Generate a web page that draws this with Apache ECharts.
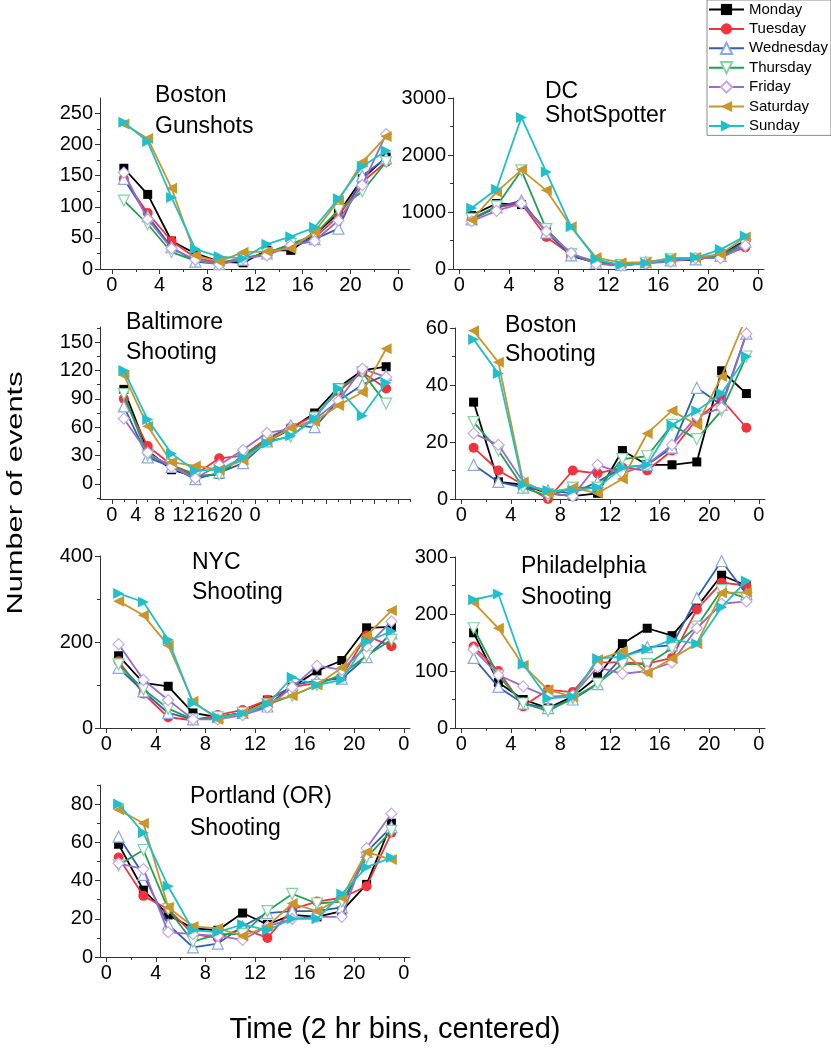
<!DOCTYPE html>
<html><head><meta charset="utf-8">
<script src="https://cdn.jsdelivr.net/npm/echarts@6/dist/echarts.min.js"></script>
<style>html,body{margin:0;padding:0;background:#fff}#c{width:831px;height:1050px}</style>
</head><body><div id="c"></div>
<script>
// ---------------- data ----------------
const DAYS = ['Monday', 'Tuesday', 'Wednesday', 'Thursday', 'Friday', 'Saturday', 'Sunday'];
const HOURS = [1, 3, 5, 7, 9, 11, 13, 15, 17, 19, 21, 23];
const BALTIMORE_HOURS = [2, 6, 10, 14, 18, 22, 26, 30, 34, 38, 42, 46];
const X_TICKS = [0, 4, 8, 12, 16, 20, 24];
const X_MINOR = [2, 6, 10, 14, 18, 22];
const BALTIMORE_X_TICKS = [0, 4, 8, 12, 16, 20, 24, 28, 32, 36, 40, 44, 48];
const BALTIMORE_X_MINOR = [2, 6, 10, 14, 18, 22, 26, 30, 34, 38, 42, 46, 50];

// rows: Monday..Sunday, columns: HOURS
const bostonGunshots = [
  [162, 120, 45, 25, 12, 10, 30, 30, 55, 90, 145, 180],
  [145, 90, 45, 18, 10, 17, 25, 38, 50, 85, 140, 172],
  [145, 85, 35, 12, 8, 15, 25, 40, 48, 65, 150, 178],
  [110, 72, 27, 13, 10, 17, 25, 40, 55, 95, 125, 172],
  [155, 80, 33, 15, 7, 17, 22, 38, 45, 78, 135, 217],
  [233, 210, 130, 22, 12, 27, 28, 33, 60, 110, 172, 213],
  [236, 205, 115, 32, 20, 17, 40, 52, 67, 113, 165, 190]
];
const dcShotSpotter = [
  [940, 1150, 1130, 690, 230, 110, 50, 120, 160, 160, 250, 500],
  [880, 1080, 1150, 560, 250, 100, 80, 90, 160, 180, 220, 380],
  [870, 1080, 1200, 640, 240, 110, 70, 120, 150, 170, 230, 480],
  [880, 1100, 1730, 700, 260, 130, 70, 110, 170, 180, 240, 420],
  [840, 1020, 1150, 660, 280, 90, 60, 100, 130, 190, 190, 410],
  [860, 1350, 1740, 1380, 740, 200, 110, 120, 190, 200, 260, 560],
  [1070, 1400, 2660, 1700, 740, 170, 70, 100, 180, 200, 340, 580]
];
const baltimoreShooting = [
  [100, 35, 15, 8, 10, 30, 45, 58, 75, 102, 120, 124],
  [90, 40, 20, 10, 27, 30, 48, 60, 72, 98, 118, 101],
  [82, 28, 18, 5, 12, 22, 45, 62, 60, 88, 105, 115],
  [95, 30, 20, 8, 10, 30, 45, 50, 70, 100, 118, 85],
  [69, 33, 18, 6, 20, 36, 54, 58, 68, 88, 122, 113],
  [115, 61, 23, 19, 15, 25, 45, 59, 66, 83, 97, 143],
  [120, 68, 32, 14, 15, 28, 43, 51, 69, 101, 72, 107]
];
const bostonShooting = [
  [34, 6, 5, 2, 1, 2, 17, 12, 12, 13, 45, 37],
  [18, 10, 5, 0, 10, 9, 11, 10, 17, 28, 35, 25],
  [12, 6, 4, 3, 2, 6, 11, 12, 18, 39, 33, 58],
  [27, 17, 4, 1, 4, 4, 14, 15, 26, 21, 31, 50],
  [23, 19, 6, 2, 1, 12, 9, 12, 19, 29, 32, 58],
  [59, 48, 6, 2, 4, 2, 7, 23, 31, 26, 43, 64],
  [56, 44, 5, 3, 3, 4, 11, 12, 26, 31, 37, 50]
];
const nycShooting = [
  [168, 105, 97, 35, 25, 35, 65, 95, 133, 157, 233, 235],
  [155, 80, 25, 18, 30, 42, 65, 95, 105, 120, 215, 190],
  [140, 85, 35, 20, 25, 35, 50, 100, 110, 115, 165, 220],
  [148, 90, 45, 20, 25, 35, 55, 75, 100, 125, 168, 205],
  [195, 112, 65, 20, 20, 30, 48, 95, 145, 135, 190, 248],
  [295, 262, 192, 62, 20, 35, 60, 75, 100, 140, 215, 273],
  [313, 293, 205, 58, 25, 33, 55, 118, 100, 112, 200, 225]
];
const philadelphiaShooting = [
  [167, 80, 50, 35, 55, 90, 148, 175, 162, 212, 268, 250],
  [143, 100, 38, 67, 63, 115, 115, 113, 123, 208, 255, 250],
  [123, 72, 43, 35, 50, 77, 125, 142, 145, 228, 293, 235],
  [175, 92, 43, 30, 52, 78, 112, 112, 140, 178, 242, 228],
  [138, 93, 73, 55, 57, 107, 95, 100, 115, 175, 218, 222],
  [220, 175, 110, 67, 55, 120, 135, 97, 122, 148, 237, 238],
  [225, 235, 112, 52, 55, 122, 125, 138, 155, 148, 212, 258]
];
const portlandShooting = [
  [59, 35, 22, 15, 14, 23, 17, 22, 21, 24, 38, 70],
  [52, 32, 25, 12, 10, 15, 10, 25, 29, 31, 37, 65],
  [63, 43, 17, 5, 7, 16, 23, 24, 24, 26, 55, 68],
  [48, 56, 25, 8, 12, 12, 24, 33, 28, 29, 52, 66],
  [49, 46, 13, 12, 11, 9, 16, 20, 21, 21, 57, 75],
  [77, 70, 26, 16, 15, 11, 16, 28, 24, 31, 55, 51],
  [80, 65, 37, 14, 13, 17, 14, 20, 20, 33, 47, 52]
];

const PANEL_TITLES = ['Boston\nGunshots', 'DC\nShotSpotter', 'Baltimore\nShooting', 'Boston\nShooting',
  'NYC\nShooting', 'Philadelphia\nShooting', 'Portland (OR)\nShooting'];
const PANEL_DATA = [bostonGunshots, dcShotSpotter, baltimoreShooting, bostonShooting,
  nycShooting, philadelphiaShooting, portlandShooting];
const PANEL_HOURS = [HOURS, HOURS, BALTIMORE_HOURS, HOURS, HOURS, HOURS, HOURS];
const Y_TICKS = [
  [0, 50, 100, 150, 200, 250],
  [0, 1000, 2000, 3000],
  [0, 30, 60, 90, 120, 150],
  [0, 20, 40, 60],
  [0, 200, 400],
  [0, 100, 200, 300],
  [0, 20, 40, 60, 80]
];
const Y_MINOR = [
  [25, 75, 125, 175, 225],
  [500, 1500, 2500],
  [-15, 15, 45, 75, 105, 135, 165],
  [10, 30, 50],
  [100, 300],
  [50, 150, 250],
  [10, 30, 50, 70, 90]
];
const Y_RANGE = [[0, 275], [0, 3000], [-16, 166], [0, 60], [0, 400], [0, 300], [0, 90]];
const X_RANGE = [[-1, 25], [-0.5, 24.5], [-2, 50], [-0.5, 24.5], [-0.5, 24.5], [-0.5, 24.5], [-0.5, 24.5]];

// ---------------- layout / style ----------------
const FONT = "'Liberation Sans', Arial, sans-serif";
const GRIDS = [
  {left: 100, top: 98, width: 310, height: 171},
  {left: 453, top: 98, width: 311, height: 171},
  {left: 100, top: 327, width: 310, height: 172},
  {left: 455, top: 328, width: 310, height: 171},
  {left: 100, top: 556, width: 310, height: 172},
  {left: 455, top: 557, width: 310, height: 171},
  {left: 100, top: 785, width: 310, height: 172}
];
const TITLE_POS = [
  {left: 155, top: 80, lh: 31},
  {left: 545, top: 80, lh: 23.5},
  {left: 126, top: 308, lh: 30},
  {left: 505, top: 311, lh: 29},
  {left: 192, top: 548, lh: 30},
  {left: 521, top: 551, lh: 31},
  {left: 190, top: 781, lh: 32}
];
const STYLES = [
  {line: '#000000', fill: '#000000', border: '#000000', symbol: 'rect', size: 9, rot: 0},
  {line: '#F2333D', fill: '#F2333D', border: '#F2333D', symbol: 'circle', size: 10, rot: 0},
  {line: '#2F5FB3', fill: '#ffffff', border: '#8AA8E2', symbol: 'triangle', size: 11, rot: 0},
  {line: '#22A052', fill: '#ffffff', border: '#84D3A3', symbol: 'triangle', size: 11, rot: 180},
  {line: '#9A6CC6', fill: '#ffffff', border: '#C6A8E8', symbol: 'diamond', size: 11, rot: 0},
  {line: '#C9962A', fill: '#C9962A', border: '#C9962A', symbol: 'triangle', size: 11, rot: 90},
  {line: '#1FC0CB', fill: '#1FC0CB', border: '#1FC0CB', symbol: 'triangle', size: 11, rot: -90}
];
const AXIS_COLOR = '#333';

const grid = [], xAxis = [], yAxis = [], series = [], title = [];
PANEL_DATA.forEach((rows, p) => {
  grid.push(Object.assign({containLabel: false}, GRIDS[p]));
  const xT = p === 2 ? BALTIMORE_X_TICKS : X_TICKS;
  const xM = p === 2 ? BALTIMORE_X_MINOR : X_MINOR;
  xAxis.push({
    type: 'value', gridIndex: p, min: X_RANGE[p][0], max: X_RANGE[p][1], position: 'bottom',
    axisLine: {show: true, onZero: false, lineStyle: {color: AXIS_COLOR, width: 1}},
    axisTick: {show: true, customValues: xT, length: 5, lineStyle: {color: AXIS_COLOR}},
    axisLabel: {show: true, customValues: X_TICKS, hideOverlap: false, margin: 6,
      formatter: v => (v === 24 ? '0' : String(v)), fontSize: 20, color: '#000', fontFamily: FONT},
    splitLine: {show: false}
  });
  xAxis.push({
    type: 'value', gridIndex: p, min: X_RANGE[p][0], max: X_RANGE[p][1], position: 'bottom',
    axisLine: {show: false, onZero: false},
    axisTick: {show: true, customValues: xM, length: 3, lineStyle: {color: AXIS_COLOR}},
    axisLabel: {show: false}, splitLine: {show: false}
  });
  yAxis.push({
    type: 'value', gridIndex: p, min: Y_RANGE[p][0], max: Y_RANGE[p][1], position: 'left',
    axisLine: {show: true, onZero: false, lineStyle: {color: AXIS_COLOR, width: 1}},
    axisTick: {show: true, customValues: Y_TICKS[p], length: 5, lineStyle: {color: AXIS_COLOR}},
    axisLabel: {show: true, customValues: Y_TICKS[p], hideOverlap: false, margin: 7,
      formatter: v => String(v), fontSize: 20, color: '#000', fontFamily: FONT},
    splitLine: {show: false}
  });
  yAxis.push({
    type: 'value', gridIndex: p, min: Y_RANGE[p][0], max: Y_RANGE[p][1], position: 'left',
    axisLine: {show: false, onZero: false},
    axisTick: {show: true, customValues: Y_MINOR[p], length: 3, lineStyle: {color: AXIS_COLOR}},
    axisLabel: {show: false}, splitLine: {show: false}
  });
  title.push({
    text: PANEL_TITLES[p], left: TITLE_POS[p].left, top: TITLE_POS[p].top, padding: 0,
    textStyle: {fontSize: 23, fontWeight: 'normal', color: '#000', fontFamily: FONT, lineHeight: TITLE_POS[p].lh}
  });
  rows.forEach((vals, d) => {
    const s = STYLES[d];
    series.push({
      type: 'line', name: DAYS[d], xAxisIndex: 2 * p, yAxisIndex: 2 * p,
      data: PANEL_HOURS[p].map((h, i) => [h, vals[i]]),
      symbol: s.symbol, symbolSize: s.size, symbolRotate: s.rot, showAllSymbol: true,
      itemStyle: {color: s.fill, borderColor: s.border, borderWidth: s.fill === '#ffffff' ? 1.2 : 0, opacity: 1},
      lineStyle: {color: s.line, width: 1.8},
      emphasis: {disabled: true}, animation: false, clip: true, z: 2 + d
    });
  });
});

const chart = echarts.init(document.getElementById('c'), null, {renderer: 'canvas'});
chart.setOption({
  backgroundColor: '#ffffff',
  animation: false,
  title: title,
  grid: grid, xAxis: xAxis, yAxis: yAxis, series: series,
  legend: {
    data: DAYS, orient: 'vertical', left: 707, top: 0, padding: [2, 3, 2, 1],
    itemWidth: 35, itemHeight: 14, itemGap: 4.4, selectedMode: false,
    borderColor: '#8c8c8c', borderWidth: 1, backgroundColor: '#fff',
    textStyle: {fontSize: 15, color: '#000', fontFamily: FONT, lineHeight: 14}
  },
  graphic: [
    {type: 'text', x: 16, y: 493, rotation: Math.PI / 2, scaleX: 1.4,
      style: {text: 'Number of events', font: "22px 'Liberation Sans', Arial, sans-serif", fill: '#000',
        textAlign: 'center', textVerticalAlign: 'middle'}},
    {type: 'text', x: 395, y: 1030,
      style: {text: 'Time (2 hr bins, centered)', font: "29px 'Liberation Sans', Arial, sans-serif", fill: '#000',
        textAlign: 'center', textVerticalAlign: 'middle'}}
  ]
});
</script></body></html>
